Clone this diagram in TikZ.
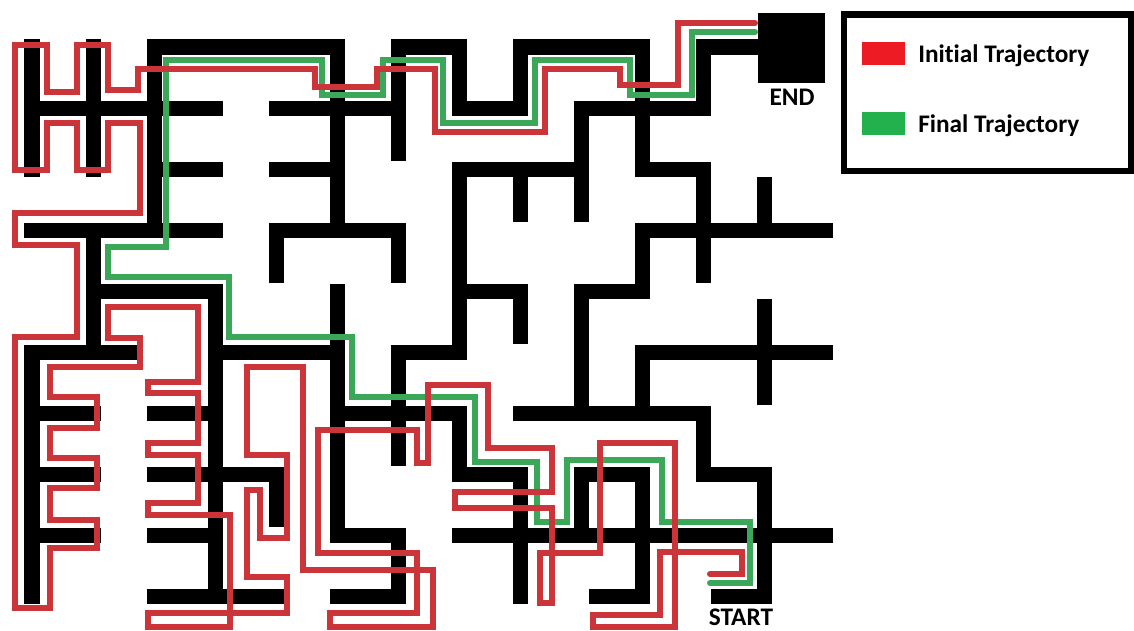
\documentclass[tikz,border=0pt]{standalone}
\usepackage{fontspec}
\setmainfont{Carlito}[Ligatures=NoCommon]
\usepackage{tikz}
\usetikzlibrary{positioning}
\definecolor{trajred}{RGB}{203,52,56}
\definecolor{trajgreen}{RGB}{58,168,88}
\definecolor{keyred}{RGB}{237,28,36}
\definecolor{keygreen}{RGB}{34,177,76}
\tikzset{
  wall/.style={line width=0.375cm, line cap=rect, black},
  redpath/.style={line width=0.15cm, trajred, line cap=round},
  greenpath/.style={line width=0.15cm, trajgreen, line cap=round},
  lbl/.style={font=\fontsize{18pt}{21pt}\selectfont\bfseries, inner sep=0pt},
  keybox/.style={minimum width=1.075cm, minimum height=0.575cm, inner sep=0pt},
}

\begin{document}
\begin{tikzpicture}[x=0.025cm, y=-0.025cm]
        \useasboundingbox (0,0) rectangle (1134,631);
        % Draw the walls of the maze (grid of 61px)
        \begin{scope}[shift={(32,47)}, x=1.525cm, y=-1.525cm]
        \draw[wall] (0,0) -- (0,2);
        \draw[wall] (1,0) -- (1,2);
        \draw[wall] (0,1) -- (3,1);
        \draw[wall] (2,2) -- (3,2);
        \draw[wall] (2,3) -- (2,0) -- (5,0) -- (5,3);
        \draw[wall] (0,3) -- (3,3);
        \draw[wall] (4,1) -- (6,1);
        \draw[wall] (4,2) -- (5,2);
        \draw[wall] (4,3.75) -- (4,3) -- (6,3) -- (6,3.75);
        \draw[wall] (6,1.75) -- (6,0) -- (7,0) -- (7,1) -- (8,1) -- (8,0) -- (10,0) -- (10,2) -- (11,2) -- (11,3.75);
        \draw[wall] (11,1) -- (11,0) -- (12,0);
        \draw[wall] (9,2.75) -- (9,1) -- (11,1);
        \draw[wall] (7,5) -- (7,2) -- (9,2);
        \draw[wall] (8,2) -- (8,2.75);
        \draw[wall] (12,2.25) -- (12,3);
        \draw[wall] (10,3) -- (13,3);
        \draw[wall] (10,3) -- (10,4) -- (9,4) -- (9,6);
        \draw[wall] (7,4) -- (8,4) -- (8,4.75);
        \draw[wall] (1,3) -- (1,5);
        \draw[wall] (1,4) -- (3,4) -- (3,9);
        \draw[wall] (1.7,5) -- (0,5) -- (0,9);
        \draw[wall] (0,6) -- (1,6);
        \draw[wall] (0,7) -- (1,7);
        \draw[wall] (0,8) -- (1,8);
        \draw[wall] (2,6) -- (3,6);
        \draw[wall] (2,7) -- (4,7) -- (4,7.75);
        \draw[wall] (2,8) -- (3,8);
        \draw[wall] (2,9) -- (4,9);
        \draw[wall] (3,5) -- (5,5);
        \draw[wall] (5,4) -- (5,8) -- (6,8) -- (6,9) -- (5,9);
        \draw[wall] (6,6.75) -- (6,5) -- (7,5);
        \draw[wall] (5,6) -- (7,6) -- (7,7) -- (8,7) -- (8,9);
        \draw[wall] (7,8) -- (13,8);
        \draw[wall] (8,6) -- (11,6) -- (11,7) -- (12,7) -- (12,9) -- (11.25,9);
        \draw[wall] (13,5) -- (10,5) -- (10,6);
        \draw[wall] (12,4.25) -- (12,5.75);
        \draw[wall] (9,8) -- (9,7) -- (10,7) -- (10,9) -- (9.25,9);
        \end{scope}
        % End block and labels
        \fill (758,13) rectangle (825,83);
        \node[lbl, anchor=base] (endLbl) at (792,105) {END};
        \node[lbl, anchor=base] (startLbl) at (741,625) {START};
        % Define the ends of the trajectories
        \coordinate (greenStart) at (710,583);
        \coordinate (greenEnd) at (755,32);
        \coordinate (redStart) at (710,574);
        \coordinate (redEnd) at (755,23);
        % Draw the final trajectory
        \draw[greenpath] (greenStart) -- (750,583) -- (750,522) -- (662,522) -- (662,460) -- (567,460)
          -- (567,522) -- (537,522) -- (537,462) -- (475,462) -- (475,397) -- (352,397) -- (352,337)
          -- (229,337) -- (229,277) -- (108,277) -- (108,247) -- (166,247) -- (166,60) -- (322,60)
          -- (322,95) -- (383,95) -- (383,60) -- (443,60) -- (443,123) -- (535,123) -- (535,60)
          -- (630,60) -- (630,95) -- (692,95) -- (692,32) -- (greenEnd);
        % Draw the initial trajectory
        \draw[redpath] (redStart) -- (742,574) -- (742,552) -- (660,552) -- (660,615) -- (593,615)
          -- (593,627) -- (675,627) -- (675,443) -- (600,443) -- (600,553) -- (540,553) -- (540,603)
          -- (552,603) -- (552,508) -- (455,508) -- (455,492) -- (552,492) -- (552,448) -- (488,448)
          -- (488,385) -- (428,385) -- (428,463) -- (417,463) -- (417,430) -- (318,430) -- (318,553)
          -- (417,553) -- (417,613) -- (330,613) -- (330,627) -- (433,627) -- (433,570) -- (303,570)
          -- (303,367) -- (247,367) -- (247,455) -- (287,455) -- (287,538) -- (260,538) -- (260,490)
          -- (247,490) -- (247,577) -- (287,577) -- (287,613) -- (148,613) -- (148,627) -- (230,627)
          -- (230,515) -- (148,515) -- (148,503) -- (198,503) -- (198,455) -- (148,455) -- (148,443)
          -- (198,443) -- (198,393) -- (148,393) -- (148,382) -- (198,382) -- (198,307) -- (108,307)
          -- (108,338) -- (140,338) -- (140,367) -- (50,367) -- (50,397) -- (97,397) -- (97,428)
          -- (50,428) -- (50,458) -- (97,458) -- (97,488) -- (50,488) -- (50,520) -- (97,520)
          -- (97,548) -- (50,548) -- (50,608) -- (15,608) -- (15,337) -- (77,337) -- (77,245)
          -- (15,245) -- (15,213) -- (140,213) -- (140,123) -- (108,123) -- (108,170) -- (77,170)
          -- (77,123) -- (47,123) -- (47,170) -- (15,170) -- (15,45) -- (47,45) -- (47,92) -- (77,92)
          -- (77,45) -- (108,45) -- (108,90) -- (138,90) -- (138,69) -- (315,69) -- (315,87)
          -- (377,87) -- (377,69) -- (435,69) -- (435,132) -- (545,132) -- (545,69) -- (620,69)
          -- (620,85) -- (678,85) -- (678,23) -- (redEnd);
        % Draw the legend
        \draw[line width=0.15cm] (843.5,14.5) rectangle (1131,170.5);
        \node[keybox, fill=keyred, anchor=north west] (initialKey) at (862,42) {};
        \node[lbl, anchor=base west] (initialLbl) at (918,62) {Initial Trajectory};
        \node[keybox, fill=keygreen, anchor=north west] (finalKey) at (862,112) {};
        \node[lbl, anchor=base west] (finalLbl) at (918,132) {Final Trajectory};
    \end{tikzpicture}
\end{document}
